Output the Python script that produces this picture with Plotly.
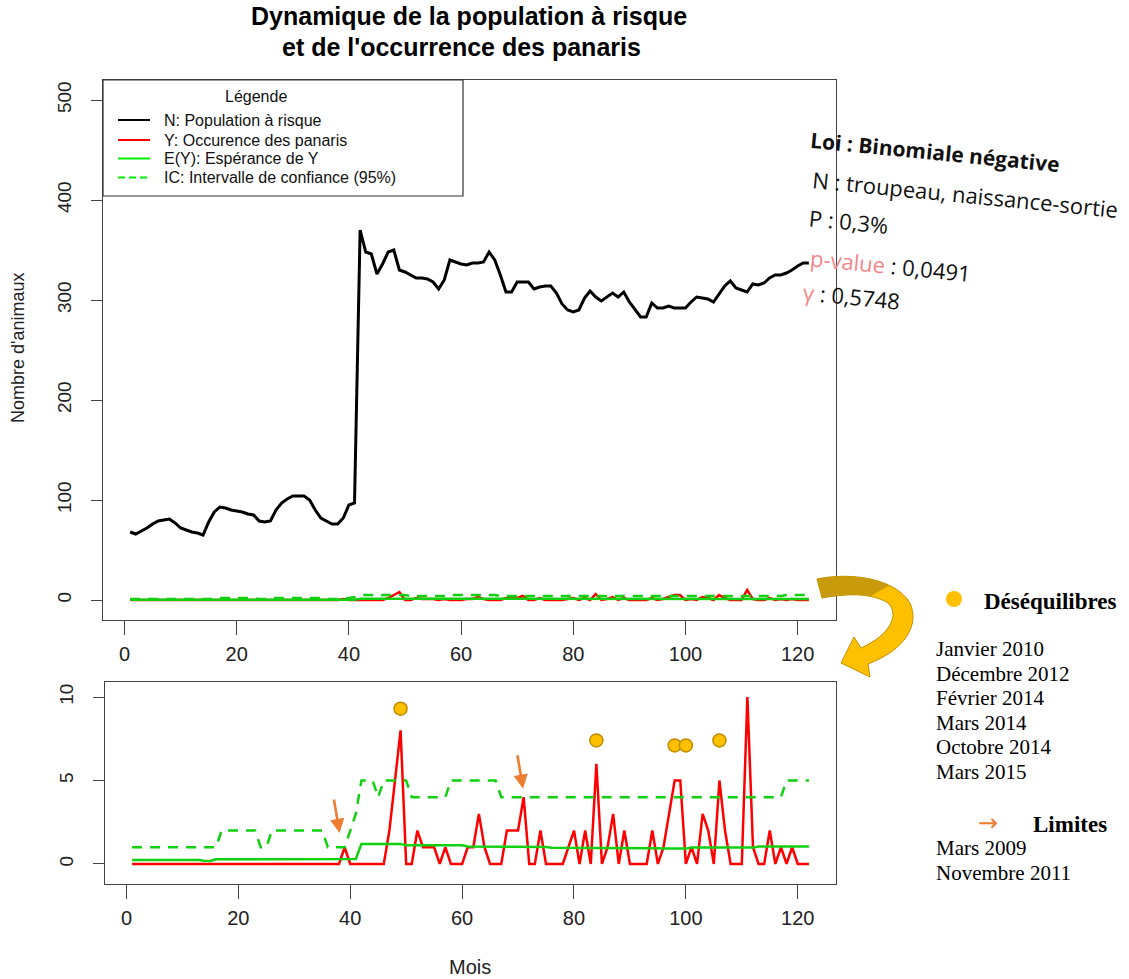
import plotly.graph_objects as go

W, H = 1129, 979

# ---------------- data ----------------
months = list(range(1, 123))

N_pop = [68, 66, 69, 72, 76, 79, 80, 81, 77, 72,
         70, 68, 67, 65, 78, 88, 93, 92, 90, 89,
         88, 86, 85, 79, 78, 79, 90, 97, 101, 104,
         104, 104, 100, 90, 82, 79, 76, 76, 82, 95,
         97, 370, 348, 346, 326, 336, 348, 350, 330, 328,
         325, 322, 322, 321, 318, 311, 320, 340, 338, 336,
         335, 337, 337, 338, 348, 340, 325, 308, 308, 318,
         318, 318, 311, 313, 314, 314, 307, 296, 290, 288,
         290, 302, 309, 303, 299, 303, 307, 303, 308, 298,
         290, 283, 283, 297, 292, 292, 294, 292, 292, 292,
         298, 303, 302, 301, 298, 306, 314, 319, 312, 310,
         308, 316, 315, 317, 322, 325, 325, 327, 330, 334,
         337, 337]

Y_occ = [0, 0, 0, 0, 0, 0, 0, 0, 0, 0,
         0, 0, 0, 0, 0, 0, 0, 0, 0, 0,
         0, 0, 0, 0, 0, 0, 0, 0, 0, 0,
         0, 0, 0, 0, 0, 0, 0, 0, 1, 0,
         0, 0, 0, 0, 0, 0, 2, 5, 8, 0,
         0, 2, 1, 1, 1, 0, 1, 0, 0, 0,
         1, 1, 3, 1, 0, 0, 0, 2, 2, 2,
         4, 0, 0, 2, 0, 0, 0, 0, 1, 2,
         0, 2, 0, 6, 0, 1, 3, 0, 2, 0,
         0, 0, 0, 2, 0, 1, 3, 5, 5, 0,
         1, 0, 3, 2, 0, 5, 2, 0, 0, 0,
         10, 1, 0, 0, 2, 0, 1, 0, 1, 0,
         0, 0]

E_Y = [0.24, 0.24, 0.24, 0.24, 0.24, 0.24, 0.24, 0.24, 0.24, 0.24,
       0.24, 0.24, 0.24, 0.18, 0.18, 0.28, 0.28, 0.28, 0.28, 0.28,
       0.28, 0.28, 0.27, 0.27, 0.27, 0.27, 0.27, 0.28, 0.28, 0.28,
       0.28, 0.30, 0.30, 0.30, 0.30, 0.30, 0.30, 0.30, 0.30, 0.30,
       0.30, 1.20, 1.20, 1.20, 1.20, 1.20, 1.20, 1.20, 1.20, 1.12,
       1.12, 1.12, 1.12, 1.12, 1.12, 1.12, 1.12, 1.12, 1.12, 1.12,
       1.05, 1.05, 1.05, 1.05, 1.05, 1.05, 1.02, 1.02, 1.02, 1.02,
       1.02, 1.02, 1.02, 1.02, 1.02, 0.97, 0.97, 0.97, 0.97, 0.97,
       0.97, 0.97, 0.97, 0.97, 0.97, 0.97, 0.94, 0.94, 0.94, 0.94,
       0.94, 0.94, 0.94, 0.94, 0.94, 0.92, 0.92, 0.92, 0.92, 0.92,
       0.98, 0.98, 0.98, 0.98, 0.98, 0.98, 0.98, 0.98, 0.98, 0.98,
       0.98, 0.98, 1.05, 1.05, 1.05, 1.05, 1.05, 1.05, 1.05, 1.05,
       1.05, 1.05]

IC_up = [1, 1, 1, 1, 1, 1, 1, 1, 1, 1,
         1, 1, 1, 1, 1, 1, 2, 2, 2, 2,
         2, 2, 2, 1, 1, 2, 2, 2, 2, 2,
         2, 2, 2, 2, 2, 1, 1, 1, 1, 2,
         3, 5, 5, 5, 4, 5, 5, 5, 5, 5,
         4, 4, 4, 4, 4, 4, 4, 5, 5, 5,
         5, 5, 5, 5, 5, 5, 4, 4, 4, 4,
         4, 4, 4, 4, 4, 4, 4, 4, 4, 4,
         4, 4, 4, 4, 4, 4, 4, 4, 4, 4,
         4, 4, 4, 4, 4, 4, 4, 4, 4, 4,
         4, 4, 4, 4, 4, 4, 4, 4, 4, 4,
         4, 4, 4, 4, 4, 4, 4, 5, 5, 5,
         5, 5]

# Déséquilibres markers (month, height of the dot)
deseq_x = [49, 84, 98, 100, 106, 110.3]
deseq_y = [9.3, 7.4, 7.1, 7.1, 7.4, 11.2]
deseq_labels = ["Janvier 2010", "Décembre 2012", "Février 2014",
                "Mars 2014", "Octobre 2014", "Mars 2015"]

# Limites (orange arrows): month and level of the arrow tip
limit_x = [38.1, 70.9]
limit_y = [1.85, 4.5]
limit_labels = ["Mars 2009", "Novembre 2011"]

x_ticks = [0, 20, 40, 60, 80, 100, 120]
y_ticks_top = [0, 100, 200, 300, 400, 500]
y_ticks_bot = [0, 5, 10]

legend_labels = ["N: Population à risque", "Y: Occurence des panaris",
                 "E(Y): Espérance de Y", "IC: Intervalle de confiance (95%)"]

# ---------------- styles ----------------
BLACK = "#000000"
RED = "#FF0000"
GREEN = "#10D010"
GOLD = "#FFC000"
ORANGE = "#ED7D31"
PINK = "#F4868A"
FONT = "Liberation Sans"
SERIF = "Liberation Serif"
HAND = "Open Sans"


def px(x):
    return x / W


def py(y):
    return 1 - y / H


def path_px(s):
    out = []
    for tok in s.split():
        if "," in tok:
            a, b = tok.split(",")
            out.append("%.5f,%.5f" % (px(float(a)), py(float(b))))
        else:
            out.append(tok)
    return " ".join(out)


fig = go.Figure()

# top panel
fig.add_trace(go.Scatter(x=months, y=N_pop, mode="lines", line=dict(color=BLACK, width=3),
                         xaxis="x", yaxis="y", showlegend=False))
fig.add_trace(go.Scatter(x=months, y=Y_occ, mode="lines", line=dict(color=RED, width=2.5),
                         xaxis="x", yaxis="y", showlegend=False))
fig.add_trace(go.Scatter(x=months, y=E_Y, mode="lines", line=dict(color=GREEN, width=2.5),
                         xaxis="x", yaxis="y", showlegend=False))
fig.add_trace(go.Scatter(x=months, y=IC_up, mode="lines", line=dict(color=GREEN, width=2.5, dash="10px,8px"),
                         xaxis="x", yaxis="y", showlegend=False))

# bottom panel
fig.add_trace(go.Scatter(x=months, y=Y_occ, mode="lines", line=dict(color=RED, width=2.5),
                         xaxis="x2", yaxis="y2", showlegend=False))
fig.add_trace(go.Scatter(x=months, y=E_Y, mode="lines", line=dict(color=GREEN, width=2.5),
                         xaxis="x2", yaxis="y2", showlegend=False))
fig.add_trace(go.Scatter(x=months, y=IC_up, mode="lines", line=dict(color=GREEN, width=2.5, dash="10px,8px"),
                         xaxis="x2", yaxis="y2", showlegend=False))
fig.add_trace(go.Scatter(x=deseq_x, y=deseq_y, mode="markers",
                         marker=dict(color=GOLD, size=13, line=dict(color="#C08A00", width=1.5)),
                         xaxis="x2", yaxis="y2", showlegend=False, cliponaxis=False))

axis_common = dict(showline=True, mirror=True, linecolor="#444444", linewidth=1.3,
                   ticks="outside", tickcolor="#444444", tickwidth=1.3,
                   showgrid=False, zeroline=False)

fig.update_layout(
    width=W, height=H, autosize=False,
    margin=dict(l=0, r=0, t=0, b=0),
    paper_bgcolor="white", plot_bgcolor="white",
    showlegend=False,
    xaxis=dict(domain=[px(103), px(836)], range=[-3.84, 126.84], anchor="y",
               tickvals=x_ticks, ticklen=14, ticklabelstandoff=2,
               tickfont=dict(family=FONT, size=20, color="#222222"), **axis_common),
    yaxis=dict(domain=[py(620), py(80)], range=[-20, 520], anchor="x",
               tickvals=y_ticks_top, ticklen=11, tickangle=-90, ticklabelstandoff=12,
               tickfont=dict(family=FONT, size=19, color="#222222"), **axis_common),
    xaxis2=dict(domain=[px(105), px(836)], range=[-3.84, 126.84], anchor="y2",
                tickvals=x_ticks, ticklen=14, ticklabelstandoff=2,
                tickfont=dict(family=FONT, size=20, color="#222222"), **axis_common),
    yaxis2=dict(domain=[py(884), py(682)], range=[-1.2, 10.9], anchor="x2",
                tickvals=y_ticks_bot, ticklen=11, tickangle=-90, ticklabelstandoff=12,
                tickfont=dict(family=FONT, size=19, color="#222222"), **axis_common),
)

shapes = []
annotations = []

# legend box (top panel)
shapes.append(dict(type="rect", xref="paper", yref="paper",
                   x0=px(103), x1=px(463), y0=py(196), y1=py(80),
                   line=dict(color="#333333", width=1.2), fillcolor="white", layer="above"))
annotations.append(dict(xref="paper", yref="paper", x=px(256), y=py(96), text="Légende",
                        showarrow=False, xanchor="center", yanchor="middle",
                        font=dict(family=FONT, size=16, color="#111111")))
leg_rows = [120, 140, 158.5, 177.5]
leg_styles = [dict(color=BLACK, width=2), dict(color=RED, width=2),
              dict(color="#00EE00", width=2), dict(color="#00EE00", width=2, dash="7px,4px")]
for lab, yy, st in zip(legend_labels, leg_rows, leg_styles):
    shapes.append(dict(type="line", xref="paper", yref="paper",
                       x0=px(118), x1=px(150), y0=py(yy), y1=py(yy), line=st, layer="above"))
    annotations.append(dict(xref="paper", yref="paper", x=px(162), y=py(yy), text=lab,
                            showarrow=False, xanchor="left", yanchor="middle",
                            font=dict(family=FONT, size=16, color="#111111")))

# title
annotations.append(dict(xref="paper", yref="paper", x=px(469), y=py(16),
                        text="<b>Dynamique de la population à risque</b>", showarrow=False,
                        xanchor="center", yanchor="middle", font=dict(family=FONT, size=25, color="#000000")))
annotations.append(dict(xref="paper", yref="paper", x=px(461), y=py(47),
                        text="<b>et de l'occurrence des panaris</b>", showarrow=False,
                        xanchor="center", yanchor="middle", font=dict(family=FONT, size=25, color="#000000")))

# axis titles
annotations.append(dict(xref="paper", yref="paper", x=px(18), y=py(348), text="Nombre d'animaux",
                        textangle=-90, showarrow=False, xanchor="center", yanchor="middle",
                        font=dict(family=FONT, size=18, color="#222222")))
annotations.append(dict(xref="paper", yref="paper", x=px(470), y=py(967), text="Mois",
                        showarrow=False, xanchor="center", yanchor="middle",
                        font=dict(family=FONT, size=20, color="#222222")))

# orange "limites" arrows
for lx, ly in zip(limit_x, limit_y):
    annotations.append(dict(xref="x2", yref="y2", axref="x2", ayref="y2",
                            x=lx, y=ly, ax=lx - 1.05, ay=ly + 2.1, text="",
                            showarrow=True, arrowhead=2, arrowsize=1.1, arrowwidth=2.6,
                            arrowcolor=ORANGE, standoff=0))

# right-side handwritten notes
hand = [
    ("<b>Loi : Binomiale négative</b>", 935, 152, 21),
    ("N : troupeau, naissance-sortie", 965, 194, 22),
    ("P : 0,3%", 848, 221, 22),
    ("<span style='color:%s'>p-value</span> : 0,0491" % PINK, 890, 265, 22),
    ("<span style='color:%s'>γ</span> : 0,5748" % PINK, 851, 296, 22),
]
for txt, cx, cy, fs in hand:
    annotations.append(dict(xref="paper", yref="paper", x=px(cx), y=py(cy), text=txt,
                            textangle=5.6, showarrow=False, xanchor="center", yanchor="middle",
                            font=dict(family=HAND, size=fs, color="#111111")))

# curved golden arrow
shapes.append(dict(type="path", xref="paper", yref="paper",
                   path=path_px("M 817,579 C 850,572 895,578 910,603 C 920,625 905,650 868,664 "
                                "L 870,677 L 841,663 L 854,637 L 861,648 "
                                "C 890,635 900,615 888,603 C 870,592 845,594 822,598 Z"),
                   fillcolor=GOLD, line=dict(color="#BF9000", width=1), layer="above"))
shapes.append(dict(type="path", xref="paper", yref="paper",
                   path=path_px("M 817,579 C 840.1,574.1 869.1,575.6 889.5,585.5 L 870.2,596.3 "
                                "C 855.2,593.4 838.1,595.2 822,598 Z"),
                   fillcolor="#C99B0A", line=dict(width=0), layer="above"))

# right-side legend: Déséquilibres
shapes.append(dict(type="circle", xref="paper", yref="paper",
                   x0=px(946), x1=px(962), y0=py(607), y1=py(591),
                   fillcolor=GOLD, line=dict(color=GOLD, width=0)))
annotations.append(dict(xref="paper", yref="paper", x=px(982), y=py(601), text="<b>Déséquilibres</b>",
                        showarrow=False, xanchor="left", yanchor="middle",
                        font=dict(family=SERIF, size=23, color="#000000")))
for i, lab in enumerate(deseq_labels):
    annotations.append(dict(xref="paper", yref="paper", x=px(934), y=py(649 + 24.6 * i), text=lab,
                            showarrow=False, xanchor="left", yanchor="middle",
                            font=dict(family=SERIF, size=21, color="#000000")))

annotations.append(dict(xref="paper", yref="paper", x=px(988), y=py(823), text="→",
                        showarrow=False, xanchor="center", yanchor="middle",
                        font=dict(family="DejaVu Sans", size=24, color=ORANGE)))
annotations.append(dict(xref="paper", yref="paper", x=px(1031), y=py(824), text="<b>Limites</b>",
                        showarrow=False, xanchor="left", yanchor="middle",
                        font=dict(family=SERIF, size=23, color="#000000")))
for i, lab in enumerate(limit_labels):
    annotations.append(dict(xref="paper", yref="paper", x=px(934), y=py(848 + 25 * i), text=lab,
                            showarrow=False, xanchor="left", yanchor="middle",
                            font=dict(family=SERIF, size=21, color="#000000")))

fig.update_layout(shapes=shapes, annotations=annotations)
fig.write_html("out.html")
